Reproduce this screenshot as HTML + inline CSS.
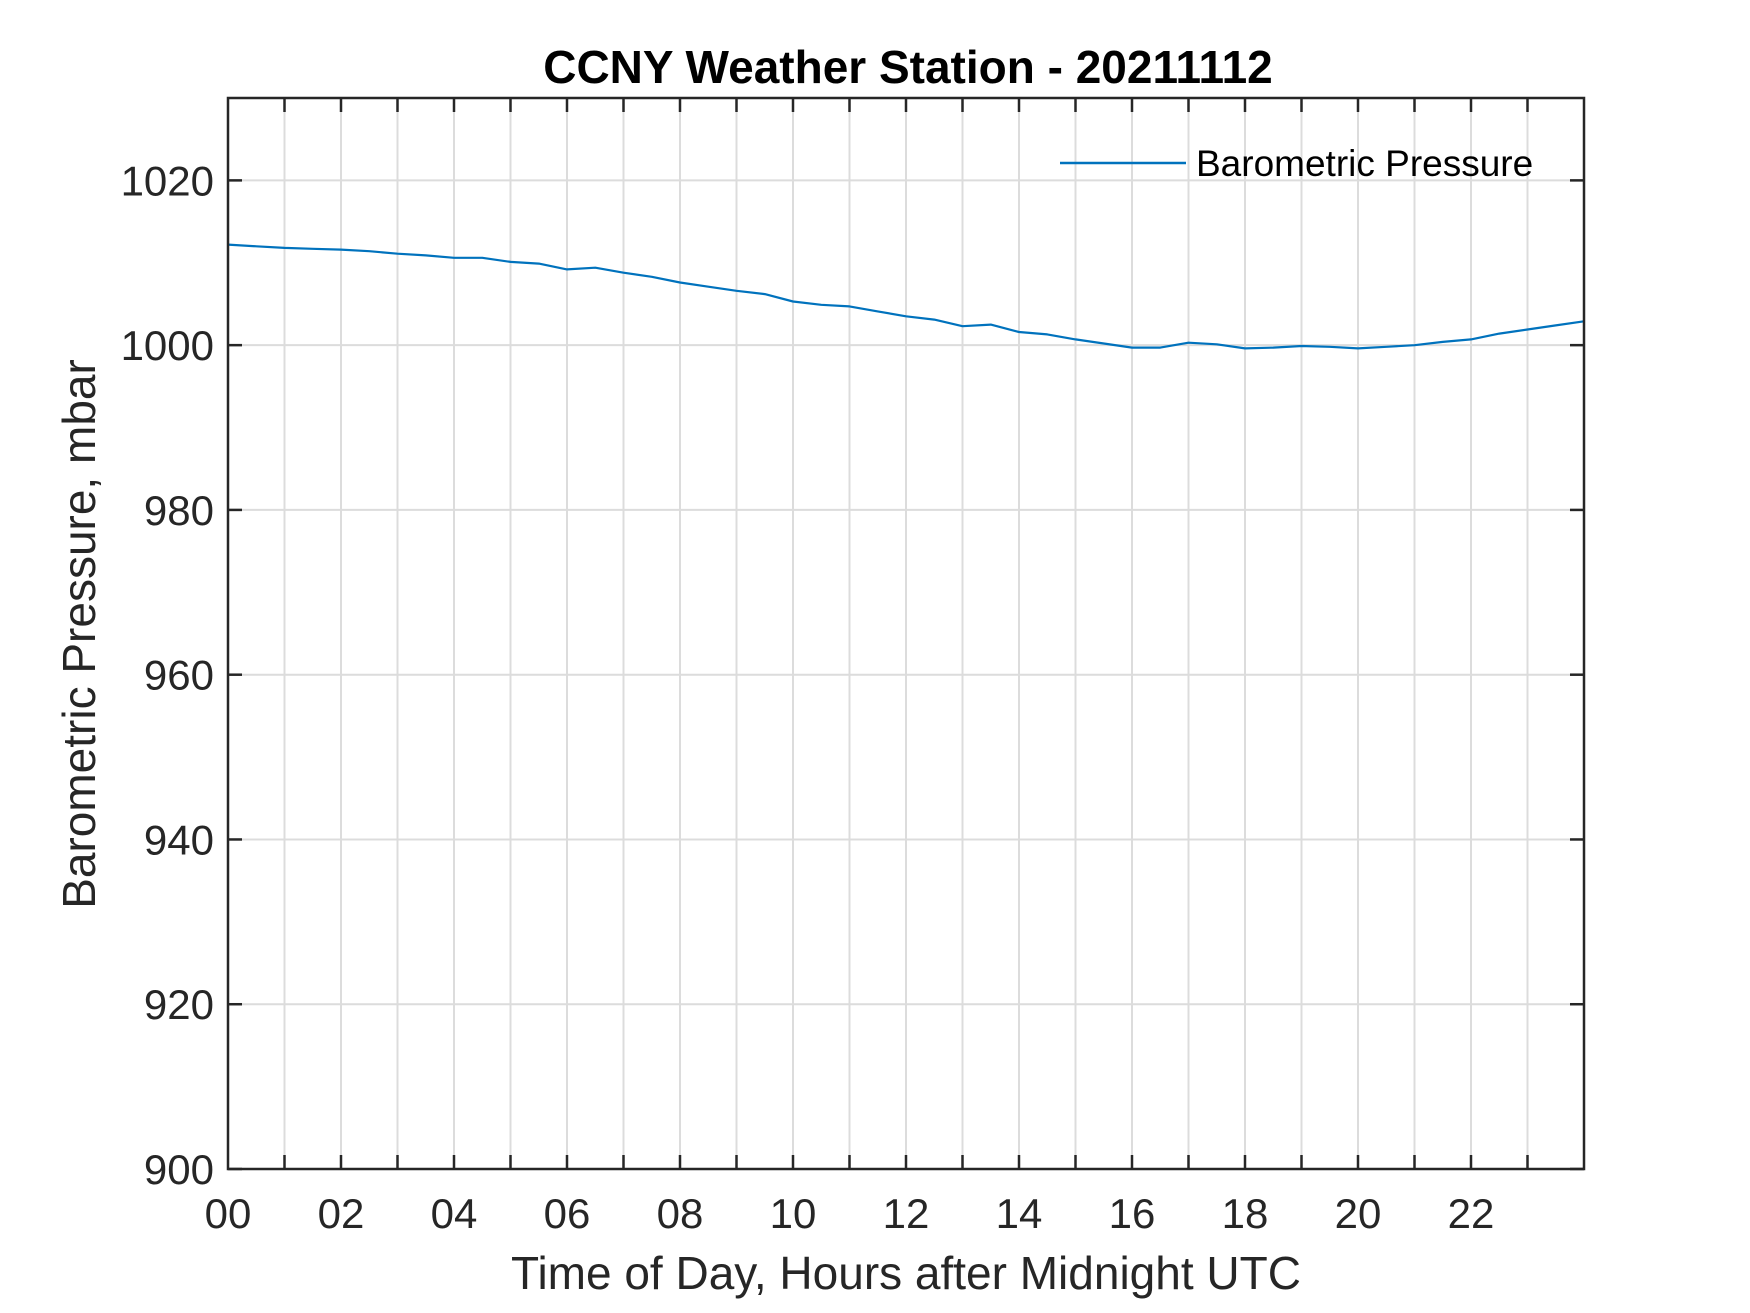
<!DOCTYPE html>
<html><head><meta charset="utf-8"><style>
html,body{margin:0;padding:0;background:#fff;}
svg{display:block;font-family:"Liberation Sans",Arial,sans-serif;}
</style></head><body>
<svg id="chart" width="1750" height="1313" viewBox="0 0 1750 1313" xmlns="http://www.w3.org/2000/svg">
<rect width="1750" height="1313" fill="#fff"/>
<g id="grid"></g>
<g id="series"></g>
<g id="axes"></g>
<text x="908" y="83" text-anchor="middle" font-size="46" font-weight="bold" fill="#000">CCNY Weather Station - 20211112</text>
<text transform="translate(95,634) rotate(-90)" text-anchor="middle" font-size="46" fill="#262626">Barometric Pressure, mbar</text>
<text x="906" y="1289" text-anchor="middle" font-size="46" fill="#262626">Time of Day, Hours after Midnight UTC</text>
<g>
<line x1="1060" y1="163" x2="1186" y2="163" stroke="#0072BD" stroke-width="2.5"/>
<text x="1196" y="176" font-size="37" fill="#000">Barometric Pressure</text>
</g>
</svg>
<script>
const hours = [0,0.5,1,1.5,2,2.5,3,3.5,4,4.5,5,5.5,6,6.5,7,7.5,8,8.5,9,9.5,10,10.5,11,11.5,12,12.5,13,13.5,14,14.5,15,15.5,16,16.5,17,17.5,18,18.5,19,19.5,20,20.5,21,21.5,22,22.5,23,23.5,24];
const pressure = [1012.2,1012.0,1011.8,1011.7,1011.6,1011.4,1011.1,1010.9,1010.6,1010.6,1010.1,1009.9,1009.2,1009.4,1008.8,1008.3,1007.6,1007.1,1006.6,1006.2,1005.3,1004.9,1004.7,1004.1,1003.5,1003.1,1002.3,1002.5,1001.6,1001.3,1000.7,1000.2,999.7,999.7,1000.3,1000.1,999.6,999.7,999.9,999.8,999.6,999.8,1000.0,1000.4,1000.7,1001.4,1001.9,1002.4,1002.9];
const yTicks = [900,920,940,960,980,1000,1020];
const xTickLabels = ["00","02","04","06","08","10","12","14","16","18","20","22"];

const L=228, R=1584, T=98, B=1169, X0=0, X1=24, Y0=900, Y1=1030;
const NS="http://www.w3.org/2000/svg";
function xs(h){return L+(h-X0)/(X1-X0)*(R-L);}
function ys(v){return B-(v-Y0)/(Y1-Y0)*(B-T);}
function mk(tag,attrs,parent){const e=document.createElementNS(NS,tag);for(const k in attrs)e.setAttribute(k,attrs[k]);parent.appendChild(e);return e;}
const grid=document.getElementById('grid'), axes=document.getElementById('axes'), series=document.getElementById('series');

for(let h=1;h<24;h++){
  const x=xs(h);
  const g=mk('line',{x1:x,y1:T,x2:x,y2:B,stroke:'#dcdcdc','stroke-width':2},grid);
  
  
  const t1=mk('line',{x1:x,y1:B,x2:x,y2:B-14,stroke:'#262626','stroke-width':2.5},axes);
  
  
  const t2=mk('line',{x1:x,y1:T,x2:x,y2:T+14,stroke:'#262626','stroke-width':2.5},axes);
  
  
}
xTickLabels.forEach((lab,i)=>{
  const t=mk('text',{x:xs(i*2),y:1228,'text-anchor':'middle','font-size':42,fill:'#262626'},axes);
  t.textContent=lab;
  
  
});
yTicks.forEach(v=>{
  const y=ys(v);
  if(v>Y0){
    const g=mk('line',{x1:L,y1:y,x2:R,y2:y,stroke:'#dcdcdc','stroke-width':2},grid);
    
    
  }
  const a=mk('line',{x1:L,y1:y,x2:L+14,y2:y,stroke:'#262626','stroke-width':2.5},axes);
  
  
  const b=mk('line',{x1:R,y1:y,x2:R-14,y2:y,stroke:'#262626','stroke-width':2.5},axes);
  
  
  const t=mk('text',{x:214,y:y+15,'text-anchor':'end','font-size':42,fill:'#262626'},axes);
  t.textContent=v;
  
  
});
const box=mk('rect',{x:L,y:T,width:R-L,height:B-T,fill:'none',stroke:'#262626','stroke-width':2.5},axes);



let d='';
hours.forEach((h,i)=>{d+=(i?'L':'M')+xs(h).toFixed(1)+','+ys(pressure[i]).toFixed(1);});
const p=mk('path',{d:d,fill:'none',stroke:'#0072BD','stroke-width':2.2,'stroke-linejoin':'round'},series);


</script>
</body></html>
